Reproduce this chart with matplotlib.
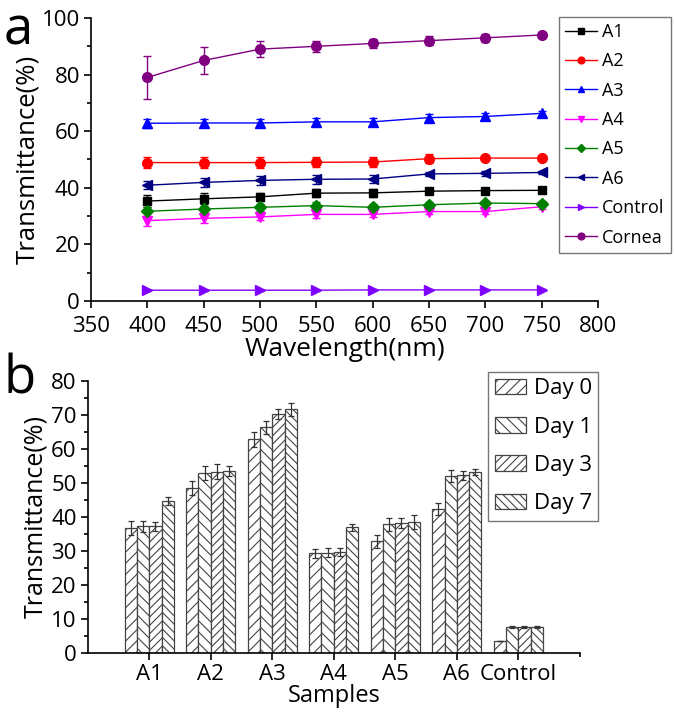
import numpy as np
import matplotlib
matplotlib.use("Agg")
import matplotlib.pyplot as plt
from matplotlib.lines import Line2D

plt.rcParams['font.family'] = ['Open Sans', 'DejaVu Sans']
plt.rcParams['hatch.linewidth'] = 0.8
plt.rcParams['hatch.color'] = '#555555'

# ---- panel a: transmittance vs wavelength ----
wavelength = [400, 450, 500, 550, 600, 650, 700, 750]
series_names = ['A1', 'A2', 'A3', 'A4', 'A5', 'A6', 'Control', 'Cornea']
a1 = [35.3, 36.1, 36.8, 38.1, 38.2, 38.8, 39.0, 39.1]
a2 = [48.9, 48.9, 48.9, 49.0, 49.1, 50.3, 50.5, 50.5]
a3 = [62.8, 62.9, 62.9, 63.3, 63.3, 64.8, 65.2, 66.3]
a4 = [28.4, 29.2, 29.7, 30.6, 30.6, 31.6, 31.6, 33.3]
a5 = [31.7, 32.5, 33.1, 33.7, 33.1, 34.0, 34.6, 34.4]
a6 = [40.9, 41.9, 42.6, 43.0, 43.1, 44.9, 45.1, 45.4]
control = [3.8, 3.8, 3.8, 3.8, 3.9, 3.9, 3.9, 3.9]
cornea = [79.0, 85.0, 89.0, 90.0, 91.0, 92.0, 93.0, 94.0]

a1_err = [2.0, 2.0, 1.5, 1.5, 1.5, 0.8, 0.5, 0.5]
a2_err = [2.0, 2.0, 2.0, 1.8, 1.8, 1.5, 0.8, 0.5]
a3_err = [1.5, 1.5, 1.5, 1.5, 1.3, 1.2, 1.2, 0.8]
a4_err = [1.8, 1.5, 1.2, 1.2, 1.0, 1.0, 1.0, 0.8]
a5_err = [1.5, 1.2, 1.2, 1.2, 1.0, 1.0, 0.8, 0.8]
a6_err = [1.5, 1.5, 1.5, 1.5, 1.3, 0.8, 0.8, 0.5]
control_err = [0.2, 0.2, 0.2, 0.2, 0.2, 0.2, 0.2, 0.2]
cornea_err = [7.6, 4.9, 2.9, 2.0, 1.5, 1.5, 1.5, 1.0]

# ---- panel b: transmittance of samples over days ----
samples = ['A1', 'A2', 'A3', 'A4', 'A5', 'A6', 'Control']
days = ['Day 0', 'Day 1', 'Day 3', 'Day 7']
day0 = [36.8, 48.5, 62.8, 29.3, 32.8, 42.3, 3.5]
day1 = [37.2, 53.0, 66.3, 29.5, 37.8, 52.0, 7.6]
day3 = [37.2, 53.3, 70.3, 29.7, 38.2, 52.2, 7.7]
day7 = [44.8, 53.5, 71.6, 37.0, 38.6, 53.2, 7.7]
day0_err = [2.0, 2.0, 2.2, 1.3, 2.0, 1.8, 0.0]
day1_err = [1.5, 2.0, 2.0, 1.3, 1.8, 1.8, 0.3]
day3_err = [1.3, 2.2, 1.5, 1.1, 1.5, 1.3, 0.3]
day7_err = [1.2, 1.5, 1.8, 1.0, 2.0, 1.0, 0.3]


def style_axes(ax):
    for side in ('top', 'right'):
        ax.spines[side].set_visible(False)
    for side in ('left', 'bottom'):
        ax.spines[side].set_linewidth(1.2)
    ax.tick_params(which='both', direction='out', width=1.2)
    ax.tick_params(which='major', length=5, labelsize=16)
    ax.tick_params(axis='x', which='major', pad=6)
    ax.tick_params(axis='y', which='major', pad=3)
    ax.tick_params(which='minor', length=3)


fig = plt.figure(figsize=(6.75, 7.2), dpi=100)

# panel a
ax1 = fig.add_axes([0.135, 0.582, 0.751, 0.393])
colors = ['#000000', '#ff0000', '#0000ff', '#ff00ff', '#008000', '#000080', '#8000ff', '#800080']
markers = ['s', 'o', '^', 'v', 'D', '<', '>', 'o']
msizes = [6, 7, 7, 7, 6, 7, 7, 7]
ys = [a1, a2, a3, a4, a5, a6, control, cornea]
errs = [a1_err, a2_err, a3_err, a4_err, a5_err, a6_err, control_err, cornea_err]
handles = []
for name, y, e, c, m, ms in zip(series_names, ys, errs, colors, markers, msizes):
    ax1.errorbar(wavelength, y, yerr=e, color=c, marker=m, markersize=ms,
                 linewidth=1.0, elinewidth=1.0, capsize=3, capthick=1.0)
    handles.append(Line2D([], [], color=c, marker=m, markersize=ms * 0.7,
                          linewidth=1.0, label=name))
ax1.set_xlim(350, 800)
ax1.set_ylim(0, 100)
ax1.set_xticks(np.arange(350, 801, 50))
ax1.set_yticks(np.arange(0, 101, 20))
ax1.set_yticks(np.arange(0, 101, 10), minor=True)
style_axes(ax1)
ax1.set_xlabel('Wavelength(nm)', fontsize=19, labelpad=0)
ax1.set_ylabel('Transmittance(%)', fontsize=18.5, labelpad=1)
leg1 = ax1.legend(handles=handles, loc='upper left', bbox_to_anchor=(0.828, 0.977),
                  bbox_transform=fig.transFigure, fontsize=13, frameon=True,
                  fancybox=False, edgecolor='#555555', handlelength=1.75,
                  handletextpad=0.3, labelspacing=0.63, borderpad=0.35,
                  borderaxespad=0)
leg1.get_frame().set_linewidth(1.0)
fig.text(0.005, 0.995, 'a', fontsize=38, va='top', ha='left')

# panel b
ax2 = fig.add_axes([0.130, 0.093, 0.729, 0.378])
x = np.arange(1, len(samples) + 1)
width = 0.2
hatches = ['///', '\\\\\\', '////', '\\\\\\\\']
bar_vals = [day0, day1, day3, day7]
bar_errs = [day0_err, day1_err, day3_err, day7_err]
for i, (lab, v, e, hatch) in enumerate(zip(days, bar_vals, bar_errs, hatches)):
    ax2.bar(x + (i - 1.5) * width, v, width, yerr=e, color='white',
            edgecolor='#444444', linewidth=0.9, hatch=hatch, label=lab,
            error_kw=dict(ecolor='#333333', elinewidth=0.9, capsize=2.5, capthick=0.9))
ax2.set_xlim(0, 8)
ax2.set_ylim(0, 80)
ax2.set_xticks(x)
ax2.set_xticklabels(samples)
ax2.set_xticks([8], minor=True)
ax2.set_yticks(np.arange(0, 81, 10))
ax2.set_yticks(np.arange(0, 81, 5), minor=True)
style_axes(ax2)
ax2.tick_params(axis='x', which='major', pad=3)
ax2.set_xlabel('Samples', fontsize=17, labelpad=-1)
ax2.set_ylabel('Transmittance(%)', fontsize=18, labelpad=2)
leg2 = ax2.legend(loc='upper left', bbox_to_anchor=(0.723, 0.484),
                  bbox_transform=fig.transFigure, fontsize=16, frameon=True,
                  fancybox=False, edgecolor='#555555', handlelength=1.4,
                  handleheight=0.7, labelspacing=0.78, borderpad=0.3,
                  handletextpad=0.35, borderaxespad=0)
leg2.get_frame().set_linewidth(1.0)
fig.text(0.005, 0.51, 'b', fontsize=38, va='top', ha='left')

fig.savefig('out.png', dpi=100)
